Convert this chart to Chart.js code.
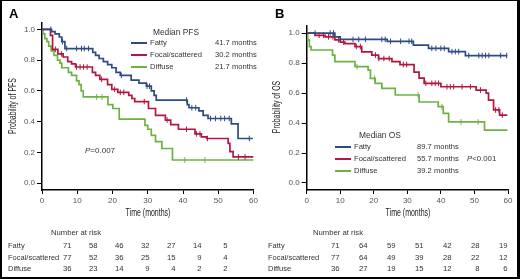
<!DOCTYPE html>
<html><head><meta charset="utf-8">
<script src="https://cdn.jsdelivr.net/npm/chart.js@4"></script>
<style>
body{margin:0;background:#fff;width:520px;height:279px;overflow:hidden;position:relative;font-family:"Liberation Sans",Arial,sans-serif;}
.t{position:absolute;white-space:nowrap;color:#333;line-height:1;}
.frame{position:absolute;left:0;top:0;width:520px;height:279px;box-sizing:border-box;border:2px solid #000;border-top-width:1px;border-right-width:3px;pointer-events:none}
canvas{position:absolute}
.lg{position:absolute;height:2px}
</style></head><body>
<canvas id="cA" width="260" height="215" style="left:0;top:0"></canvas>
<canvas id="cB" width="260" height="215" style="left:260px;top:0"></canvas>
<div id="txt"></div>
<div class="frame"></div>
<script>
// ---------- data ----------
const seriesNames = ['Fatty', 'Focal/scattered', 'Diffuse'];
const xTicks = [0, 10, 20, 30, 40, 50, 60];
const yTicks = [0, 0.2, 0.4, 0.6, 0.8, 1.0];

// Panel A: PFS (step start time, survival from that time)
const pfsFattyTime = [0, 2.7, 3.7, 4.9, 5.6, 6.5, 14.4, 15.2, 16.2, 17.4, 18.6, 19.8, 21.0, 22.2, 25.3, 27.5, 29.6, 31.0, 31.8, 32.4, 41.2, 41.7, 44.5, 45.7, 47.1, 53.7, 55.6];
const pfsFattySurv = [1.0, 0.985, 0.97, 0.95, 0.92, 0.875, 0.85, 0.83, 0.81, 0.79, 0.77, 0.75, 0.72, 0.70, 0.67, 0.65, 0.63, 0.60, 0.57, 0.54, 0.51, 0.49, 0.47, 0.44, 0.42, 0.385, 0.29];
const pfsFattyCensor = [2.5, 5.8, 7.0, 9.8, 11.2, 12.0, 13.2, 22.5, 29.8, 30.5, 41.0, 42.5, 43.6, 47.8, 49.2, 50.7, 51.8, 53.1, 58.8];

const pfsFocalTime = [0, 2.4, 3.0, 4.5, 6.0, 7.3, 8.4, 9.5, 14.3, 15.2, 16.4, 18.6, 19.8, 21.5, 24.6, 25.5, 26.3, 30.2, 32.2, 35.0, 36.5, 38.7, 43.4, 45.2, 46.7, 52.8, 53.3, 54.2];
const pfsFocalSurv = [1.0, 0.96, 0.87, 0.84, 0.82, 0.79, 0.775, 0.755, 0.72, 0.70, 0.675, 0.64, 0.61, 0.59, 0.57, 0.55, 0.53, 0.485, 0.44, 0.41, 0.38, 0.35, 0.32, 0.30, 0.29, 0.258, 0.205, 0.17];
const pfsFocalCensor = [3.8, 5.5, 9.8, 10.8, 11.8, 12.8, 16.9, 20.6, 22.2, 23.2, 29.0, 35.5, 41.0, 43.8, 44.8, 46.9, 55.7, 57.6];

const pfsDiffuseTime = [0, 0.3, 0.8, 1.4, 1.9, 2.6, 3.4, 4.4, 5.1, 5.6, 7.5, 8.4, 9.8, 10.5, 11.1, 11.7, 18.7, 20.1, 21.9, 29.2, 30.0, 31.0, 32.2, 34.0, 37.0];
const pfsDiffuseSurv = [1.0, 0.97, 0.94, 0.92, 0.89, 0.86, 0.83, 0.80, 0.78, 0.75, 0.72, 0.70, 0.665, 0.64, 0.60, 0.56, 0.51, 0.485, 0.416, 0.375, 0.35, 0.31, 0.27, 0.225, 0.15];
const pfsDiffuseCensor = [15.5, 17.0, 40.5, 46.2];

// Panel B: OS
const osFattyTime = [0, 8.4, 10.0, 24.0, 31.8, 36.3, 42.3, 47.3];
const osFattySurv = [1.0, 0.975, 0.958, 0.945, 0.92, 0.898, 0.876, 0.85];
const osFattyCensor = [2.5, 7.0, 8.0, 13.8, 15.5, 17.5, 22.4, 23.4, 25.0, 28.0, 30.5, 31.3, 37.3, 38.5, 40.0, 41.0, 43.3, 44.3, 45.3, 48.3, 51.3, 52.3, 53.3, 54.3, 57.8, 59.6];

const osFocalTime = [0, 2.5, 5.5, 8.4, 10.0, 11.4, 14.4, 16.4, 19.4, 21.4, 25.4, 27.8, 32.0, 33.5, 35.0, 40.0, 50.5, 53.5, 54.2, 55.7, 57.5];
const osFocalSurv = [1.0, 0.985, 0.975, 0.955, 0.94, 0.93, 0.91, 0.875, 0.853, 0.83, 0.81, 0.79, 0.74, 0.70, 0.665, 0.642, 0.62, 0.60, 0.553, 0.487, 0.453];
const osFocalCensor = [3.7, 5.0, 6.5, 7.8, 9.5, 11.0, 14.8, 16.0, 20.5, 21.5, 23.0, 24.6, 28.8, 29.8, 35.5, 37.3, 38.3, 39.3, 41.8, 42.8, 43.8, 46.3, 48.8, 51.8, 56.3, 57.3, 58.3];

const osDiffuseTime = [0, 0.3, 0.8, 1.3, 7.7, 8.4, 14.4, 18.3, 19.0, 20.4, 22.4, 26.4, 33.5, 39.2, 40.7, 42.3, 53.0];
const osDiffuseSurv = [1.0, 0.953, 0.91, 0.887, 0.853, 0.809, 0.776, 0.753, 0.698, 0.664, 0.631, 0.587, 0.54, 0.509, 0.464, 0.407, 0.353];
const osDiffuseCensor = [15.0, 20.2, 33.2, 40.3, 46.0, 51.1];

const medianPfs = ['41.7 months', '30.2 months', '21.7 months'];
const medianOs = ['89.7 months', '55.7 months', '39.2 months'];

const riskPfsFatty = [71, 58, 46, 32, 27, 14, 5];
const riskPfsFocal = [77, 52, 36, 25, 15, 9, 4];
const riskPfsDiffuse = [36, 23, 14, 9, 4, 2, 2];
const riskOsFatty = [71, 64, 59, 51, 42, 28, 19];
const riskOsFocal = [77, 64, 49, 39, 28, 22, 12];
const riskOsDiffuse = [36, 27, 19, 15, 12, 8, 6];

// ---------- styles ----------
const colors = ['#2f4b84', '#b3163f', '#6fb244'];
const FONT = '"Liberation Sans", Arial, sans-serif';

function stepPoints(times, surv, end) {
  const pts = times.map((t, i) => ({x: t, y: surv[i]}));
  pts.push({x: end, y: surv[surv.length - 1]});
  return pts;
}
function survAt(times, surv, t) {
  let v = surv[0];
  for (let i = 0; i < times.length; i++) if (times[i] <= t) v = surv[i];
  return v;
}

function makeChart(id, curves, yMin, yMax, padTop, padRight, yWidth) {
  const datasets = [];
  curves.forEach((c, i) => {
    datasets.push({data: stepPoints(c.t, c.s, c.end), borderColor: colors[i], borderWidth: 1.7,
      stepped: 'before', pointRadius: 0, fill: false, order: 2});
    datasets.push({data: c.c.map(t => ({x: t, y: survAt(c.t, c.s, t)})), showLine: false,
      pointStyle: 'line', rotation: 90, pointRadius: 2.8, pointBorderWidth: 1,
      borderColor: colors[i], backgroundColor: colors[i], order: 1});
  });
  return new Chart(document.getElementById(id), {
    type: 'line',
    data: {datasets},
    options: {
      responsive: false, animation: false, events: [],
      layout: {padding: {top: padTop, right: padRight, left: 0, bottom: 0}},
      plugins: {legend: {display: false}, tooltip: {enabled: false}},
      scales: {
        x: {type: 'linear', min: 0, max: 60,
          afterBuildTicks: s => { s.ticks = xTicks.map(v => ({value: v})); },
          afterFit: s => { s.height = 25; },
          ticks: {font: {size: 8, family: FONT}, color: '#555', padding: 2, maxRotation: 0, callback: v => String(v)},
          grid: {display: true, drawOnChartArea: false, drawTicks: true, tickLength: 4, color: '#000', lineWidth: 1},
          border: {display: true, color: '#000', width: 1.5}},
        y: {type: 'linear', min: yMin, max: yMax,
          afterBuildTicks: s => { s.ticks = yTicks.map(v => ({value: v})); },
          afterFit: s => { s.width = yWidth; },
          ticks: {font: {size: 8, family: FONT}, color: '#555', padding: 2, callback: v => v.toFixed(1)},
          grid: {display: true, drawOnChartArea: false, drawTicks: true, tickLength: 5, color: '#000', lineWidth: 1},
          border: {display: true, color: '#000', width: 1.5}}
      }
    }
  });
}

makeChart('cA', [
  {t: pfsFattyTime, s: pfsFattySurv, c: pfsFattyCensor, end: 59.8},
  {t: pfsFocalTime, s: pfsFocalSurv, c: pfsFocalCensor, end: 60},
  {t: pfsDiffuseTime, s: pfsDiffuseSurv, c: pfsDiffuseCensor, end: 60}
], -0.045, 1.041, 23, 6, 42);

makeChart('cB', [
  {t: osFattyTime, s: osFattySurv, c: osFattyCensor, end: 59.8},
  {t: osFocalTime, s: osFocalSurv, c: osFocalCensor, end: 59.8},
  {t: osDiffuseTime, s: osDiffuseSurv, c: osDiffuseCensor, end: 59.8}
], -0.0467, 1.047, 26, 12, 46.7);

// ---------- text ----------
const host = document.getElementById('txt');
function txt(html, x, y, size, align, extra) {
  const d = document.createElement('div');
  d.className = 't';
  d.innerHTML = html;
  d.style.left = x + 'px';
  d.style.top = y + 'px';
  d.style.fontSize = size + 'px';
  const tx = align === 'center' ? '-50%' : align === 'right' ? '-100%' : '0';
  d.style.transform = 'translate(' + tx + ',-50%)' + (extra && extra.tf ? ' ' + extra.tf : '');
  if (extra && extra.css) Object.assign(d.style, extra.css);
  host.appendChild(d);
  return d;
}
function lgLine(x, y, w, color) {
  const d = document.createElement('div');
  d.className = 'lg';
  d.style.left = x + 'px'; d.style.top = (y - 1) + 'px'; d.style.width = w + 'px';
  d.style.background = color;
  host.appendChild(d);
}

const bold = {css: {fontWeight: 'bold', color: '#000'}};
txt('A', 9, 13, 13, 'left', bold);
txt('B', 275, 13, 13, 'left', bold);

const dark = {color: '#222'};
txt('Time (months)', 148, 213, 10, 'center', {css: dark, tf: 'scaleX(0.7)'});
txt('Time (months)', 408, 213, 10, 'center', {css: dark, tf: 'scaleX(0.7)'});
txt('Probability of PFS', 13, 106, 10, 'center', {css: dark, tf: 'rotate(-90deg) scaleX(0.7)'});
txt('Probability of OS', 277, 107, 10, 'center', {css: dark, tf: 'rotate(-90deg) scaleX(0.7)'});

// legend A
txt('Median PFS', 176, 32, 8.4, 'center');
[43.3, 55, 67.3].forEach((y, i) => {
  lgLine(131, y, 16, colors[i]);
  txt(seriesNames[i], 150, y, 7.6, 'left');
  txt(medianPfs[i], 215, y, 7.6, 'left');
});
txt('<i>P</i>=0.007', 85, 151, 8, 'left');

// legend B
txt('Median OS', 380, 135, 8.4, 'center');
[146.7, 159, 171].forEach((y, i) => {
  lgLine(335, y, 16, colors[i]);
  txt(seriesNames[i], 354, y, 7.6, 'left');
  txt(medianOs[i], 417, y, 7.6, 'left');
});
txt('<i>P</i>&lt;0.001', 467, 159, 7.8, 'left');

// number at risk tables
const rowsY = [246, 257.7, 269];
txt('Number at risk', 51, 233, 7.7, 'left');
txt('Number at risk', 313, 233, 7.7, 'left');
[riskPfsFatty, riskPfsFocal, riskPfsDiffuse].forEach((row, r) => {
  txt(seriesNames[r], 8, rowsY[r], 7.5, 'left');
  row.forEach((v, i) => txt(String(v), 71.5 + 26 * i, rowsY[r], 7.7, 'right'));
});
[riskOsFatty, riskOsFocal, riskOsDiffuse].forEach((row, r) => {
  txt(seriesNames[r], 268, rowsY[r], 7.5, 'left');
  row.forEach((v, i) => txt(String(v), 339.5 + 28 * i, rowsY[r], 7.7, 'right'));
});
</script>
</body></html>
